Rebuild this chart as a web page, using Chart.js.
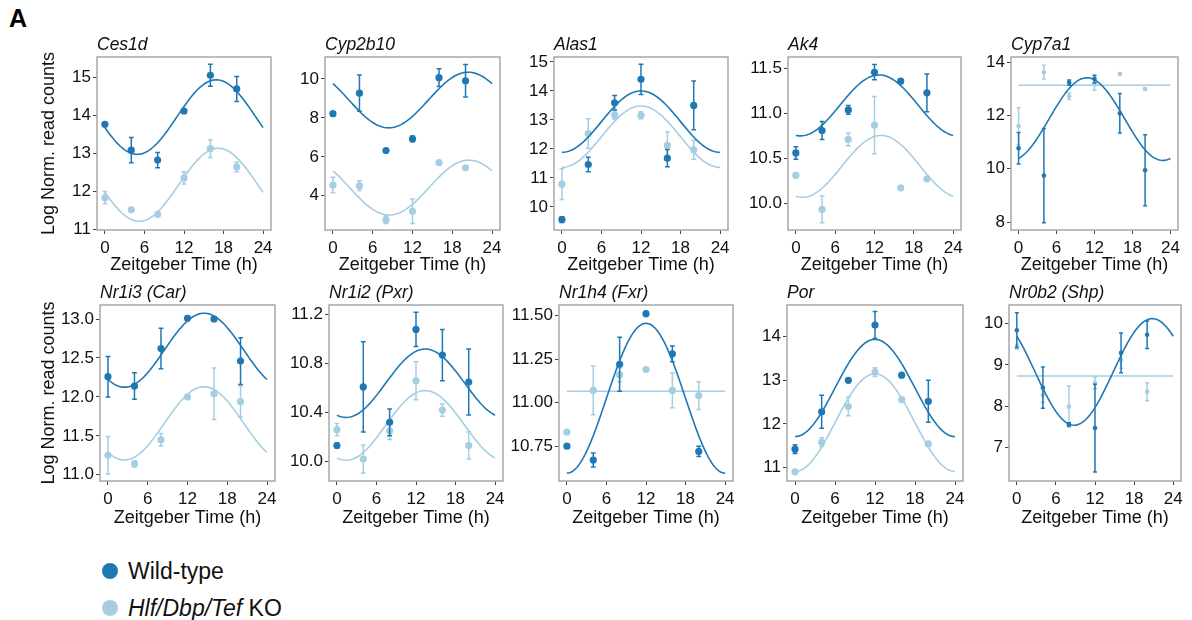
<!DOCTYPE html>
<html>
<head>
<meta charset="utf-8">
<script src="https://cdn.jsdelivr.net/npm/chart.js@4.4.1/dist/chart.umd.min.js"></script>
<style>
  html, body { margin: 0; padding: 0; background: #fff; }
  body { width: 1192px; height: 620px; position: relative; overflow: hidden; font-family: 'Liberation Sans', Arial, sans-serif; color: #111; }
  canvas { position: absolute; }
  #tag { position: absolute; left: 9px; top: 4px; font-weight: bold; font-size: 25px; color: #000; }
  .key { position: absolute; left: 102px; font-size: 23px; line-height: 26px; display: flex; align-items: center; }
  .dot { width: 16px; height: 16px; border-radius: 50%; margin-right: 10px; }
</style>
</head>
<body>
<div id="tag">A</div>
<div class="key" style="top:558px"><span class="dot" style="background:#1f78b4"></span>Wild-type</div>
<div class="key" style="top:595px"><span class="dot" style="background:#a6cee3"></span><i>Hlf/Dbp/Tef</i>&nbsp;KO</div>

<script>
// sampling times (ZT) and shared x ticks
const zt = [0, 4, 8, 12, 16, 20];
const xTicks = [0, 6, 12, 18, 24];

// group means and error bars per ZT; fits are [mesor, amplitude, peak ZT]
const ces1dWT = [13.76, 13.08, 12.82, 14.11, 15.05, 14.69];
const ces1dWTerr = [0.03, 0.33, 0.2, 0.05, 0.29, 0.33];
const ces1dKO = [11.83, 11.51, 11.39, 12.35, 13.12, 12.64];
const ces1dKOerr = [0.16, 0.03, 0.05, 0.16, 0.23, 0.13];
const ces1dFit = [[13.95, 0.98, 16.9], [12.17, 0.96, 17.2]];
const ces1dTicks = ['11', '12', '13', '14', '15'];

const cyp2b10WT = [8.22, 9.27, 6.32, 6.92, 10.07, 9.91];
const cyp2b10WTerr = [0.05, 0.93, 0.05, 0.15, 0.45, 0.83];
const cyp2b10KO = [4.55, 4.52, 2.77, 3.2, 5.7, 5.44];
const cyp2b10KOerr = [0.4, 0.25, 0.2, 0.63, 0.05, 0.05];
const cyp2b10Fit = [[8.92, 1.43, 20.4], [4.42, 1.41, 20.5]];
const cyp2b10Ticks = ['4', '6', '8', '10'];

const alas1WT = [9.56, 11.46, 13.59, 14.4, 11.68, 13.5];
const alas1WTerr = [0.1, 0.25, 0.25, 0.52, 0.3, 0.84];
const alas1KO = [10.78, 12.53, 13.17, 13.16, 12.12, 11.97];
const alas1KOerr = [0.53, 0.51, 0.15, 0.12, 0.46, 0.33];
const alas1Fit = [[12.94, 1.06, 12], [12.42, 1.06, 12]];
const alas1Ticks = ['10', '11', '12', '13', '14', '15'];

const ak4WT = [10.56, 10.81, 11.04, 11.46, 11.36, 11.23];
const ak4WTerr = [0.07, 0.1, 0.05, 0.085, 0.02, 0.21];
const ak4KO = [10.31, 9.93, 10.71, 10.87, 10.17, 10.27];
const ak4KOerr = [0.03, 0.15, 0.07, 0.32, 0.02, 0.02];
const ak4Fit = [[11.09, 0.34, 12.7], [10.41, 0.345, 13]];
const ak4Ticks = ['10.0', '10.5', '11.0', '11.5'];

const cyp7a1WT = [10.77, 9.74, 13.23, 13.36, 12.08, 9.94];
const cyp7a1WTerr = [0.59, 1.77, 0.1, 0.15, 0.74, 1.33];
const cyp7a1KO = [11.6, 13.62, 12.72, 13.19, 13.55, 12.99];
const cyp7a1KOerr = [0.69, 0.26, 0.12, 0.25, 0.03, 0.05];
const cyp7a1Fit = [[11.86, 1.55, 10.8], [13.13, 0, 0]];
const cyp7a1Ticks = ['8', '10', '12', '14'];

const nr1i3WT = [12.26, 12.14, 12.62, 13.01, 13.0, 12.46];
const nr1i3WTerr = [0.26, 0.17, 0.26, 0.03, 0.03, 0.3];
const nr1i3KO = [11.25, 11.14, 11.45, 12.0, 12.04, 11.94];
const nr1i3KOerr = [0.24, 0.04, 0.08, 0.03, 0.33, 0.2];
const nr1i3Fit = [[12.6, 0.475, 14.5], [11.66, 0.47, 14.5]];
const nr1i3Ticks = ['11.0', '11.5', '12.0', '12.5', '13.0'];

const nr1i2WT = [10.13, 10.61, 10.32, 11.08, 10.87, 10.65];
const nr1i2WTerr = [0.02, 0.37, 0.11, 0.14, 0.21, 0.27];
const nr1i2KO = [10.26, 10.02, 10.25, 10.66, 10.42, 10.13];
const nr1i2KOerr = [0.05, 0.115, 0.07, 0.155, 0.05, 0.11];
const nr1i2Fit = [[10.64, 0.28, 13.4], [10.295, 0.285, 13.4]];
const nr1i2Ticks = ['10.0', '10.4', '10.8', '11.2'];

const nr1h4WT = [10.75, 10.67, 11.22, 11.51, 11.28, 10.72];
const nr1h4WTerr = [0.01, 0.04, 0.155, 0.01, 0.045, 0.03];
const nr1h4KO = [10.83, 11.07, 11.16, 11.19, 11.07, 11.04];
const nr1h4KOerr = [0.01, 0.14, 0.04, 0.01, 0.1, 0.08];
const nr1h4Fit = [[11.025, 0.43, 12], [11.065, 0, 0]];
const nr1h4Ticks = ['10.75', '11.00', '11.25', '11.50'];

const porWT = [11.42, 12.28, 13.0, 14.27, 13.12, 12.52];
const porWTerr = [0.1, 0.38, 0.02, 0.31, 0.02, 0.48];
const porKO = [10.9, 11.58, 12.4, 13.19, 12.56, 11.54];
const porKOerr = [0.02, 0.1, 0.21, 0.1, 0.02, 0.02];
const porFit = [[12.825, 1.115, 12], [12.03, 1.12, 12]];
const porTicks = ['11', '12', '13', '14'];

const nr0b2WT = [9.84, 8.45, 7.56, 7.47, 9.29, 9.73];
const nr0b2WTerr = [0.42, 0.5, 0.04, 1.06, 0.48, 0.33];
const nr0b2KO = [9.44, 8.27, 7.99, 8.56, 9.12, 8.35];
const nr0b2KOerr = [0.06, 0.18, 0.5, 0.14, 0.2, 0.22];
const nr0b2Fit = [[8.83, 1.29, 20.8], [8.73, 0, 0]];
const nr0b2Ticks = ['7', '8', '9', '10'];

const WT_COLOR = '#1f78b4';
const KO_COLOR = '#a6cee3';

Chart.defaults.font.family = "'Liberation Sans', Arial, sans-serif";
Chart.defaults.color = '#111';

// panel list: title, data, y range, frame box [left, top, right, bottom], dot size
const panels = [
  { title: 'Ces1d', wt: ces1dWT, wtErr: ces1dWTerr, ko: ces1dKO, koErr: ces1dKOerr, fit: ces1dFit, ticks: ces1dTicks, y: [10.98, 15.53], box: [97, 57, 271, 230], r: 3.6 },
  { title: 'Cyp2b10', wt: cyp2b10WT, wtErr: cyp2b10WTerr, ko: cyp2b10KO, koErr: cyp2b10KOerr, fit: cyp2b10Fit, ticks: cyp2b10Ticks, y: [2.24, 11.13], box: [325, 57, 500, 230], r: 3.6 },
  { title: 'Alas1', wt: alas1WT, wtErr: alas1WTerr, ko: alas1KO, koErr: alas1KOerr, fit: alas1Fit, ticks: alas1Ticks, y: [9.2, 15.17], box: [554, 57, 728, 230], r: 3.6 },
  { title: 'Ak4', wt: ak4WT, wtErr: ak4WTerr, ko: ak4KO, koErr: ak4KOerr, fit: ak4Fit, ticks: ak4Ticks, y: [9.7, 11.63], box: [788, 57, 961, 230], r: 3.6 },
  { title: 'Cyp7a1', wt: cyp7a1WT, wtErr: cyp7a1WTerr, ko: cyp7a1KO, koErr: cyp7a1KOerr, fit: cyp7a1Fit, ticks: cyp7a1Ticks, y: [7.7, 14.19], box: [1011, 57, 1178, 230], r: 2.3 },
  { title: 'Nr1i3 (Car)', wt: nr1i3WT, wtErr: nr1i3WTerr, ko: nr1i3KO, koErr: nr1i3KOerr, fit: nr1i3Fit, ticks: nr1i3Ticks, y: [10.92, 13.18], box: [100, 305, 275, 481], r: 3.6 },
  { title: 'Nr1i2 (Pxr)', wt: nr1i2WT, wtErr: nr1i2WTerr, ko: nr1i2KO, koErr: nr1i2KOerr, fit: nr1i2Fit, ticks: nr1i2Ticks, y: [9.84, 11.28], box: [329, 305, 503, 481], r: 3.6 },
  { title: 'Nr1h4 (Fxr)', wt: nr1h4WT, wtErr: nr1h4WTerr, ko: nr1h4KO, koErr: nr1h4KOerr, fit: nr1h4Fit, ticks: nr1h4Ticks, y: [10.55, 11.56], box: [559, 305, 733, 481], r: 3.6 },
  { title: 'Por', wt: porWT, wtErr: porWTerr, ko: porKO, koErr: porKOerr, fit: porFit, ticks: porTicks, y: [10.69, 14.73], box: [787, 305, 963, 481], r: 3.6 },
  { title: 'Nr0b2 (Shp)', wt: nr0b2WT, wtErr: nr0b2WTerr, ko: nr0b2KO, koErr: nr0b2KOerr, fit: nr0b2Fit, ticks: nr0b2Ticks, y: [6.19, 10.45], box: [1009, 305, 1181, 481], r: 2.3 }
];

// cosinor fit sampled over one day
function cosinor([mesor, amp, peak]) {
  const pts = [];
  for (let t = 0; t <= 24.001; t += 0.25) {
    pts.push({ x: t, y: mesor + amp * Math.cos(2 * Math.PI * (t - peak) / 24) });
  }
  return pts;
}

// vertical error bars with small caps, drawn just under each point set
const errorBars = {
  id: 'errorBars',
  beforeDatasetDraw(chart, args) {
    const ds = chart.data.datasets[args.index];
    if (!ds.errors) return;
    const ys = chart.scales.y;
    const ctx = chart.ctx;
    const cap = ds.pointRadius > 3 ? 2.4 : 2;
    ctx.save();
    ctx.strokeStyle = ds.backgroundColor;
    ctx.lineWidth = 1.5;
    args.meta.data.forEach((pt, i) => {
      const v = ds.data[i].y, e = ds.errors[i];
      const lo = ys.getPixelForValue(v - e), hi = ys.getPixelForValue(v + e);
      ctx.beginPath();
      ctx.moveTo(pt.x, lo); ctx.lineTo(pt.x, hi);
      ctx.moveTo(pt.x - cap, lo); ctx.lineTo(pt.x + cap, lo);
      ctx.moveTo(pt.x - cap, hi); ctx.lineTo(pt.x + cap, hi);
      ctx.stroke();
    });
    ctx.restore();
  }
};

// grey panel frame and italic gene name
const panelFrame = {
  id: 'panelFrame',
  beforeDatasetsDraw(chart, args, opts) {
    const { left, top, right, bottom } = chart.chartArea;
    const ctx = chart.ctx;
    ctx.save();
    ctx.strokeStyle = '#a8a8a8';
    ctx.lineWidth = 1.5;
    ctx.strokeRect(left, top, right - left, bottom - top);
    ctx.font = "italic 17.5px 'Liberation Sans', Arial, sans-serif";
    ctx.fillStyle = '#111';
    ctx.textBaseline = 'alphabetic';
    ctx.fillText(opts.title, left, top - 7);
    ctx.restore();
  }
};

panels.forEach((p, idx) => {
  const [l, t, r, b] = p.box;
  const firstCol = idx % 5 === 0;
  const topRow = idx < 5;
  const left = firstCol ? 38 : l - 58;
  const yw = l - left;
  const tp = 30, rp = 14;
  const bh = topRow ? 46 : 48;
  const w = r - left + rp;
  const h = b - t + tp + bh;

  const cv = document.createElement('canvas');
  cv.width = w; cv.height = h;
  cv.style.left = left + 'px';
  cv.style.top = (t - tp) + 'px';
  cv.style.width = w + 'px';
  cv.style.height = h + 'px';
  document.body.appendChild(cv);

  new Chart(cv, {
    type: 'scatter',
    data: {
      datasets: [
        { label: 'Wild-type', data: zt.map((x, i) => ({ x, y: p.wt[i] })), errors: p.wtErr,
          backgroundColor: WT_COLOR, borderWidth: 0, pointRadius: p.r },
        { data: cosinor(p.fit[0]), showLine: true, borderColor: WT_COLOR, borderWidth: 1.6, pointRadius: 0, fill: false },
        { label: 'Hlf/Dbp/Tef KO', data: zt.map((x, i) => ({ x, y: p.ko[i] })), errors: p.koErr,
          backgroundColor: KO_COLOR, borderWidth: 0, pointRadius: p.r },
        { data: cosinor(p.fit[1]), showLine: true, borderColor: KO_COLOR, borderWidth: 1.6, pointRadius: 0, fill: false }
      ]
    },
    options: {
      responsive: false,
      animation: false,
      layout: { padding: { top: tp, right: rp, left: 0, bottom: 0 } },
      plugins: {
        legend: { display: false },
        tooltip: { enabled: false },
        panelFrame: { title: p.title }
      },
      scales: {
        x: {
          type: 'linear', min: -1.2, max: 25.2,
          afterBuildTicks: s => { s.ticks = xTicks.map(v => ({ value: v })); },
          afterFit: s => { s.height = bh; },
          border: { display: false },
          grid: { drawOnChartArea: false, tickLength: 4, color: '#444' },
          ticks: { font: { size: 17 }, color: '#111', padding: 4, maxRotation: 0, autoSkip: false },
          title: { display: true, text: 'Zeitgeber Time (h)', font: { size: 18 }, color: '#111', padding: 0 }
        },
        y: {
          min: p.y[0], max: p.y[1],
          afterBuildTicks: s => { s.ticks = p.ticks.map(v => ({ value: Number(v) })); },
          afterFit: s => { s.width = yw; },
          border: { display: false },
          grid: { drawOnChartArea: false, tickLength: 4, color: '#444' },
          ticks: { font: { size: 17 }, color: '#111', padding: 2, callback: (v, i) => p.ticks[i] },
          title: { display: firstCol, text: 'Log Norm. read counts', font: { size: 18 }, color: '#111', padding: 0 }
        }
      }
    },
    plugins: [errorBars, panelFrame]
  });
});
</script>
</body>
</html>
